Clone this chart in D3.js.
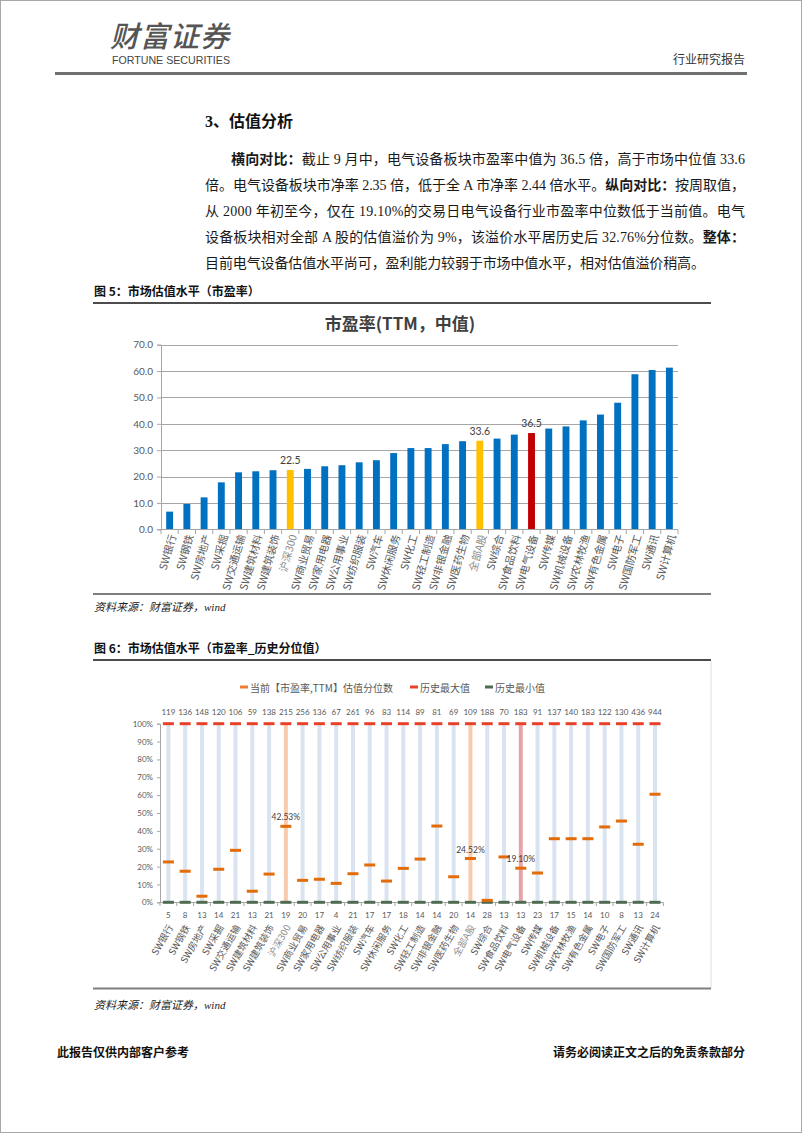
<!DOCTYPE html>
<html><head><meta charset="utf-8">
<script src="https://cdn.jsdelivr.net/npm/d3@7"></script>
<style>body{margin:0;background:#fff}svg{display:block}</style>
</head><body>
<svg id="page" width="802" height="1133"></svg>
<script>
// ---------- DATA ----------
const categories = ["SW银行","SW钢铁","SW房地产","SW采掘","SW交通运输","SW建筑材料","SW建筑装饰","沪深300","SW商业贸易","SW家用电器","SW公用事业","SW纺织服装","SW汽车","SW休闲服务","SW化工","SW轻工制造","SW非银金融","SW医药生物","全部A股","SW综合","SW食品饮料","SW电气设备","SW传媒","SW机械设备","SW农林牧渔","SW有色金属","SW电子","SW国防军工","SW通讯","SW计算机"];
const peMedian = [6.7,9.6,12.1,17.8,21.6,22.0,22.4,22.5,22.9,23.9,24.3,25.4,26.2,28.9,30.8,30.8,32.3,33.4,33.6,34.4,35.9,36.5,38.2,39.0,41.3,43.5,48.0,58.8,60.4,61.3];
const peTicks = [0,10,20,30,40,50,60,70];
const pctCurrent = [22.6,17.4,3.4,18.5,29.1,6.2,15.8,42.53,12.3,12.9,10.6,16.0,20.9,11.9,19.0,24.2,42.7,14.3,24.52,1.1,25.4,19.10,16.4,35.6,35.6,35.6,42.2,45.5,32.5,60.5];
const pctMax = new Array(30).fill(100);
const pctMin = new Array(30).fill(0);
const peHistMax = [119,136,148,120,106,59,138,215,256,136,67,261,96,83,114,89,81,69,109,188,70,183,91,137,140,183,122,130,436,944];
const peHistMin = [5,8,13,14,21,13,21,19,20,17,4,21,17,17,18,14,14,20,14,28,13,13,23,17,15,14,10,8,13,24];
const pctTicks = [0,10,20,30,40,50,60,70,80,90,100];
const marketCats = ["沪深300","全部A股"];
const focusCat = "SW电气设备";
const pctLabelled = ["沪深300","全部A股","SW电气设备"];

// ---------- STYLE ----------
const CJK = "'Noto Sans CJK SC', sans-serif";
const SERIF = "'Liberation Serif', 'Noto Sans CJK SC', serif";
const CHART = "'Lato', 'Noto Sans CJK SC', sans-serif";
const svg = d3.select("#page");

// page frame
svg.append("rect").attr("x",0.5).attr("y",0.5).attr("width",801).attr("height",1132)
  .attr("fill","none").attr("stroke","#a8a8a8");

// ---------- HEADER ----------
svg.append("text").attr("x",110).attr("y",47).text("财富证券")
  .attr("font-family",CJK).attr("font-size",29).attr("fill","#555").attr("font-weight",500)
  .attr("font-style","italic").attr("letter-spacing",1);
svg.append("text").attr("x",112).attr("y",64).text("FORTUNE SECURITIES")
  .attr("font-family","'Liberation Sans Narrow','Liberation Sans',sans-serif").attr("font-size",11.5)
  .attr("fill","#444").attr("textLength",118).attr("lengthAdjust","spacingAndGlyphs");
svg.append("text").attr("x",745).attr("y",64).attr("text-anchor","end").text("行业研究报告")
  .attr("font-family",CJK).attr("font-size",12).attr("fill","#333");
svg.append("line").attr("x1",55).attr("x2",747).attr("y1",73.5).attr("y2",73.5)
  .attr("stroke","#707070").attr("stroke-width",3);

// ---------- TEXT ----------
svg.append("text").attr("x",205).attr("y",127).text("3、估值分析")
  .attr("font-family",SERIF).attr("font-size",16).attr("font-weight",700).attr("fill","#111");

const paraLines = [
  {x:231, w:514, parts:[["横向对比：",1],["截止 9 月中，电气设备板块市盈率中值为 36.5 倍，高于市场中位值 33.6",0]]},
  {x:205, w:540, parts:[["倍。电气设备板块市净率 2.35 倍，低于全 A 市净率 2.44 倍水平。",0],["纵向对比：",1],["按周取值，",0]]},
  {x:205, w:540, parts:[["从 2000 年初至今，仅在 19.10%的交易日电气设备行业市盈率中位数低于当前值。电气",0]]},
  {x:205, w:540, parts:[["设备板块相对全部 A 股的估值溢价为 9%，该溢价水平居历史后 32.76%分位数。",0],["整体：",1]]},
  {x:205, w:500, parts:[["目前电气设备估值水平尚可，盈利能力较弱于市场中值水平，相对估值溢价稍高。",0]]}
];
paraLines.forEach((ln,i)=>{
  const t = svg.append("text").attr("x",ln.x).attr("y",164+i*26)
    .attr("font-family",SERIF).attr("font-size",14).attr("fill","#1a1a1a")
    .attr("textLength",ln.w).attr("lengthAdjust","spacing");
  ln.parts.forEach(p=>t.append("tspan").text(p[0]).attr("font-weight",p[1]?700:400));
});

// ---------- FIGURE 5 ----------
function caption(y,txt){
  svg.append("text").attr("x",94).attr("y",y).text(txt)
    .attr("font-family",CJK).attr("font-size",12).attr("font-weight",700).attr("fill","#111");
}
caption(296,"图 5：市场估值水平（市盈率）");
svg.append("line").attr("x1",93).attr("x2",711).attr("y1",303).attr("y2",303).attr("stroke","#111").attr("stroke-width",1.5);

svg.append("text").attr("x",400).attr("y",330).attr("text-anchor","middle").text("市盈率(TTM，中值)")
  .attr("font-family",CJK).attr("font-size",17).attr("font-weight",700).attr("fill","#404040");

const x1 = d3.scaleBand().domain(categories).range([161,678]).paddingInner(0.6).paddingOuter(0.3);
const y1 = d3.scaleLinear().domain([0,70]).range([529.3,344.7]);
const g1 = svg.append("g");
// gridlines
g1.append("g").selectAll("line").data(peTicks.filter(d=>d>0)).join("line")
  .attr("x1",161).attr("x2",678).attr("y1",d=>Math.round(y1(d))+0.5).attr("y2",d=>Math.round(y1(d))+0.5)
  .attr("stroke","#a6a6a6").attr("stroke-width",1);
// y axis
const ya1 = g1.append("g").attr("transform","translate(161,0)")
  .call(d3.axisLeft(y1).tickValues(peTicks).tickFormat(d3.format(".1f")).tickSize(4).tickPadding(4));
ya1.select(".domain").attr("stroke","#a6a6a6");
ya1.selectAll(".tick line").attr("stroke","#a6a6a6");
ya1.selectAll("text").attr("font-family",CHART).attr("font-size",10).attr("fill","#595959");
// bars
g1.append("g").selectAll("rect").data(categories).join("rect")
  .attr("x",d=>x1(d)).attr("width",x1.bandwidth())
  .attr("y",(d,i)=>y1(peMedian[i])).attr("height",(d,i)=>y1(0)-y1(peMedian[i]))
  .attr("fill",d=>d===focusCat?"#c00000":(marketCats.includes(d)?"#ffc000":"#0070c0"));
// data labels
g1.append("g").selectAll("text").data(categories.filter(c=>pctLabelled.includes(c))).join("text")
  .attr("x",d=>x1(d)+x1.bandwidth()/2).attr("y",d=>y1(peMedian[categories.indexOf(d)])-6)
  .attr("text-anchor","middle").text(d=>peMedian[categories.indexOf(d)].toFixed(1))
  .attr("font-family",CHART).attr("font-size",10.5).attr("fill","#404040");
// x axis
const step1 = x1.step();
g1.append("line").attr("x1",161).attr("x2",678).attr("y1",529.5).attr("y2",529.5).attr("stroke","#a6a6a6");
g1.append("g").selectAll("line").data(d3.range(categories.length+1)).join("line")
  .attr("x1",i=>161+i*(517/categories.length)).attr("x2",i=>161+i*(517/categories.length))
  .attr("y1",529.5).attr("y2",534).attr("stroke","#a6a6a6");
g1.append("g").selectAll("text").data(categories).join("text")
  .attr("transform",d=>`translate(${x1(d)+x1.bandwidth()/2+4},535) rotate(-74)`)
  .attr("text-anchor","end").attr("dominant-baseline","middle").text(d=>d)
  .attr("font-family",CJK).attr("font-size",10.5)
  .attr("fill",d=>marketCats.includes(d)?"#8c8c8c":"#595959");

svg.append("line").attr("x1",93).attr("x2",711).attr("y1",594).attr("y2",594).attr("stroke","#7f7f7f").attr("stroke-width",2);
function source(y){
  svg.append("text").attr("x",94).attr("y",y).text("资料来源：财富证券，wind")
    .attr("font-family",SERIF).attr("font-size",11).attr("font-style","italic").attr("fill","#222");
}
source(611);

// ---------- FIGURE 6 ----------
caption(653,"图 6：市场估值水平（市盈率_历史分位值）");
svg.append("line").attr("x1",93).attr("x2",711).attr("y1",660).attr("y2",660).attr("stroke","#111").attr("stroke-width",1.5);
svg.append("line").attr("x1",711).attr("x2",711).attr("y1",661).attr("y2",988).attr("stroke","#e0e0e0");

// legend
const legend = [
  {x:240, color:"#ed7d31", label:"当前【市盈率,TTM】估值分位数"},
  {x:410, color:"#e8412a", label:"历史最大值"},
  {x:485, color:"#4f6b52", label:"历史最小值"}
];
const lg = svg.append("g").selectAll("g").data(legend).join("g").attr("transform",d=>`translate(${d.x},687)`);
lg.append("rect").attr("x",0).attr("y",-1.5).attr("width",8).attr("height",3).attr("fill",d=>d.color);
lg.append("text").attr("x",10).attr("y",0).attr("dominant-baseline","central").text(d=>d.label)
  .attr("font-family",CJK).attr("font-size",10).attr("fill","#595959");

const x2 = d3.scaleBand().domain(categories).range([160,663.4]);
const y2 = d3.scaleLinear().domain([0,100]).range([902.3,723.7]);
const g2 = svg.append("g");
const cx = d=>x2(d)+x2.bandwidth()/2;
// y axis
const ya2 = g2.append("g").attr("transform","translate(160,0)")
  .call(d3.axisLeft(y2).tickValues(pctTicks).tickFormat(d=>d+"%").tickSize(3).tickPadding(4));
ya2.select(".domain").attr("stroke","#a6a6a6");
ya2.selectAll(".tick line").attr("stroke","#a6a6a6");
ya2.selectAll("text").attr("font-family",CHART).attr("font-size",8).attr("fill","#595959");
// range lines
g2.append("g").selectAll("rect").data(categories).join("rect")
  .attr("x",d=>cx(d)-2).attr("width",4)
  .attr("y",(d,i)=>y2(pctMax[i])).attr("height",(d,i)=>y2(pctMin[i])-y2(pctMax[i]))
  .attr("fill",d=>d===focusCat?"#e6a4aa":(marketCats.includes(d)?"#f8cbad":"#dae3f0"));
// x axis
g2.append("line").attr("x1",160).attr("x2",663.4).attr("y1",902.5).attr("y2",902.5).attr("stroke","#a6a6a6");
g2.append("g").selectAll("line").data(d3.range(categories.length+1)).join("line")
  .attr("x1",i=>160+i*x2.step()).attr("x2",i=>160+i*x2.step())
  .attr("y1",902.5).attr("y2",906).attr("stroke","#a6a6a6");
// min markers
g2.append("g").selectAll("rect").data(categories).join("rect")
  .attr("x",d=>cx(d)-5.5).attr("width",11).attr("y",(d,i)=>y2(pctMin[i])-1.5).attr("height",3)
  .attr("fill","#4f6b52");
// max markers
g2.append("g").selectAll("rect").data(categories).join("rect")
  .attr("x",d=>cx(d)-5.5).attr("width",11).attr("y",(d,i)=>y2(pctMax[i])-1.5).attr("height",3)
  .attr("fill","#e8412a");
// current markers
g2.append("g").selectAll("rect").data(categories).join("rect")
  .attr("x",d=>cx(d)-5.5).attr("width",11).attr("y",(d,i)=>y2(pctCurrent[i])-1.5).attr("height",3)
  .attr("fill","#e36c09");
// pct labels
g2.append("g").selectAll("text").data(pctLabelled).join("text")
  .attr("x",d=>cx(d)).attr("y",d=>y2(pctCurrent[categories.indexOf(d)])-6)
  .attr("text-anchor","middle").text(d=>pctCurrent[categories.indexOf(d)].toFixed(2)+"%")
  .attr("font-family",CHART).attr("font-size",8.5).attr("fill","#404040");
// top numbers (historical max PE)
g2.append("g").selectAll("text").data(categories).join("text")
  .attr("x",d=>cx(d)).attr("y",711.5).attr("text-anchor","middle").attr("dominant-baseline","central")
  .text((d,i)=>peHistMax[i]).attr("font-family",CHART).attr("font-size",8).attr("fill","#595959");
// bottom numbers (historical min PE)
g2.append("g").selectAll("text").data(categories).join("text")
  .attr("x",d=>cx(d)).attr("y",915).attr("text-anchor","middle").attr("dominant-baseline","central")
  .text((d,i)=>peHistMin[i]).attr("font-family",CHART).attr("font-size",8).attr("fill","#595959");
// category labels
g2.append("g").selectAll("text").data(categories).join("text")
  .attr("transform",d=>`translate(${cx(d)+3},926) rotate(-60)`)
  .attr("text-anchor","end").attr("dominant-baseline","middle").text(d=>d)
  .attr("font-family",CJK).attr("font-size",9.5)
  .attr("fill",d=>marketCats.includes(d)?"#8c8c8c":"#595959");

svg.append("line").attr("x1",93).attr("x2",711).attr("y1",988.5).attr("y2",988.5).attr("stroke","#7f7f7f").attr("stroke-width",2);
source(1009);

// ---------- FOOTER ----------
svg.append("text").attr("x",57).attr("y",1057).text("此报告仅供内部客户参考")
  .attr("font-family",CJK).attr("font-size",12).attr("font-weight",700).attr("fill","#111");
svg.append("text").attr("x",745).attr("y",1057).attr("text-anchor","end").text("请务必阅读正文之后的免责条款部分")
  .attr("font-family",CJK).attr("font-size",12).attr("font-weight",700).attr("fill","#111");
</script>
</body></html>
